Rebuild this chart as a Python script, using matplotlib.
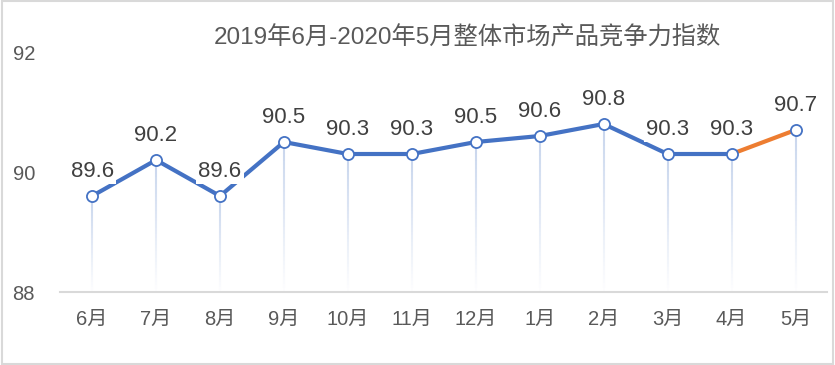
import matplotlib.pyplot as plt
import numpy as np
from matplotlib.collections import LineCollection
from matplotlib.patches import Rectangle

plt.rcParams['font.family'] = ['Liberation Sans', 'Noto Sans CJK SC', 'DejaVu Sans']

# 数据
months = ['6月', '7月', '8月', '9月', '10月', '11月', '12月', '1月', '2月', '3月', '4月', '5月']
index_values = [89.6, 90.2, 89.6, 90.5, 90.3, 90.3, 90.5, 90.6, 90.8, 90.3, 90.3, 90.7]
title = '2019年6月-2020年5月整体市场产品竞争力指数'

fig = plt.figure(figsize=(8.35, 3.65), dpi=100)
ax = fig.add_axes([0.072, 0.2, 0.919, 0.6575])

x = np.arange(len(months))
blue = '#4472C4'
orange = '#ED7D31'

# 渐变的垂直线
segs, cols = [], []
for xi, yi in zip(x, index_values):
    ys = np.linspace(yi, 88, 40)
    for k in range(len(ys) - 1):
        segs.append([(xi, ys[k]), (xi, ys[k + 1])])
        a = 0.9 * (1 - k / (len(ys) - 1))
        cols.append((0.76, 0.82, 0.92, a))
ax.add_collection(LineCollection(segs, colors=cols, linewidths=1.5, zorder=1))

# 折线
ax.plot(x[:-1], index_values[:-1], color=blue, lw=3, zorder=2, solid_capstyle='round')
ax.plot(x[-2:], index_values[-2:], color=orange, lw=3, zorder=2, solid_capstyle='round')
ax.plot(x, index_values, 'o', ms=8, mfc='white', mec=blue, mew=1.3, zorder=4)

# 数据标签
for xi, yi in zip(x, index_values):
    ax.annotate(f'{yi:.1f}', (xi, yi), xytext=(0, 18), textcoords='offset points',
                ha='center', va='center', fontsize=16, color='#404040', zorder=5,
                bbox=dict(boxstyle='square,pad=0.1', fc='white', ec='none'))

ax.set_xlim(-0.5, len(months) - 0.5)
ax.set_ylim(88, 92)
ax.set_yticks([88, 90, 92])
ax.set_xticks(x)
ax.set_xticklabels(months)
ax.tick_params(axis='x', length=0, pad=13, labelsize=14.5, colors='#595959')
ax.tick_params(axis='y', length=0, pad=18, labelsize=14.5, colors='#595959')
for s in ['top', 'right', 'left']:
    ax.spines[s].set_visible(False)
ax.spines['bottom'].set_color('#D9D9D9')
ax.spines['bottom'].set_linewidth(1.5)

fig.text(0.56, 0.895, title, ha='center', va='center', fontsize=17.5, color='#595959')

fig.patches.append(Rectangle((0.002, 0.003), 0.996, 0.994, transform=fig.transFigure,
                             fill=False, ec='#D9D9D9', lw=1.5))

fig.savefig('out.png', dpi=100)
